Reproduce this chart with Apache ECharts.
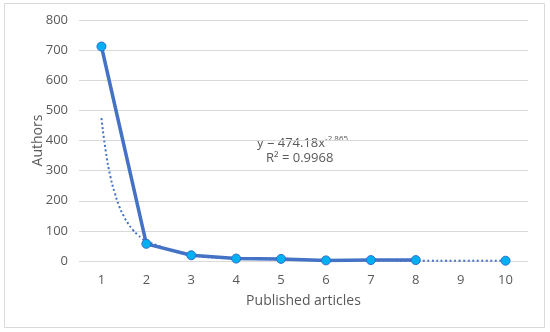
<!DOCTYPE html>
<html>
<head>
<meta charset="utf-8">
<script src="https://cdn.jsdelivr.net/npm/echarts@6/dist/echarts.min.js"></script>
<style>
  html, body { margin: 0; padding: 0; background: #fff; }
  #chart { width: 550px; height: 332px; }
</style>
</head>
<body>
<div id="chart"></div>
<script>
  // categories on the x axis
  var articles = ['1', '2', '3', '4', '5', '6', '7', '8', '9', '10'];
  // observed authors (no value at 9)
  var authors = [712, 57, 19, 8, 7, 2, 3, 3, null, 1];
  // power trendline
  var trendX = [1, 1.1, 1.2, 1.3, 1.4, 1.5, 1.6, 1.7, 1.8, 1.9, 2, 3, 4, 5, 6, 7, 8, 9, 10];
  var trendY = [474, 360, 280, 224, 180, 148, 123, 103, 88, 75, 65, 20, 9, 5, 3, 2, 1, 1, 1];
  var yTicks = [0, 100, 200, 300, 400, 500, 600, 700, 800];

  var trendData = trendX.map(function (x, i) { return [x, trendY[i]]; });

  var chart = echarts.init(document.getElementById('chart'));
  var txt = '#595959';
  var font = 'Open Sans';

  var option = {
    animation: false,
    grid: { left: 79, right: 22, top: 20, bottom: 71 },
    xAxis: [
      {
        type: 'category',
        data: articles,
        boundaryGap: true,
        axisLine: { show: false },
        axisTick: { show: false },
        axisLabel: { color: txt, fontFamily: font, fontSize: 13, margin: 13 },
        name: 'Published articles',
        nameLocation: 'middle',
        nameGap: 33,
        nameMoveOverlap: false,
        nameTextStyle: { color: txt, fontFamily: font, fontSize: 14 }
      },
      {
        type: 'value',
        min: 0.5,
        max: 10.5,
        show: false
      }
    ],
    yAxis: {
      type: 'value',
      min: yTicks[0],
      max: yTicks[yTicks.length - 1],
      interval: 100,
      axisLine: { show: false },
      axisTick: { show: false },
      axisLabel: { color: txt, fontFamily: font, fontSize: 13, margin: 11 },
      splitLine: { lineStyle: { color: '#d9d9d9', width: 1 } },
      name: 'Authors',
      nameLocation: 'middle',
      nameGap: 34,
      nameMoveOverlap: false,
      nameTextStyle: { color: txt, fontFamily: font, fontSize: 14 }
    },
    series: [
      {
        type: 'line',
        xAxisIndex: 1,
        data: trendData,
        smooth: true,
        showSymbol: false,
        lineStyle: { color: '#4472c4', width: 2, type: [2, 2.5] },
        z: 1
      },
      {
        type: 'line',
        data: authors,
        connectNulls: false,
        symbol: 'circle',
        symbolSize: 9,
        itemStyle: { color: '#00b0f0', borderColor: '#2f6fcf', borderWidth: 1 },
        lineStyle: { color: '#4472c4', width: 3.5 },
        z: 3
      }
    ],
    graphic: [
      {
        type: 'rect',
        shape: { x: 4.5, y: 3.5, width: 540, height: 324 },
        style: { fill: 'none', stroke: '#d9d9d9', lineWidth: 1 },
        silent: true
      },
      {
        type: 'text',
        left: 257,
        top: 135,
        style: {
          text: '{n|y = 474.18x}{s|-2.865}',
          rich: {
            n: { fontFamily: font, fontSize: 13, fill: txt },
            s: { fontFamily: font, fontSize: 8, fill: txt, verticalAlign: 'top', padding: [0, 0, 8, 0] }
          }
        }
      },
      {
        type: 'text',
        left: 266,
        top: 152,
        style: { text: 'R² = 0.9968', fontFamily: font, fontSize: 13, fill: txt }
      }
    ]
  };
  chart.setOption(option);
</script>
</body>
</html>
